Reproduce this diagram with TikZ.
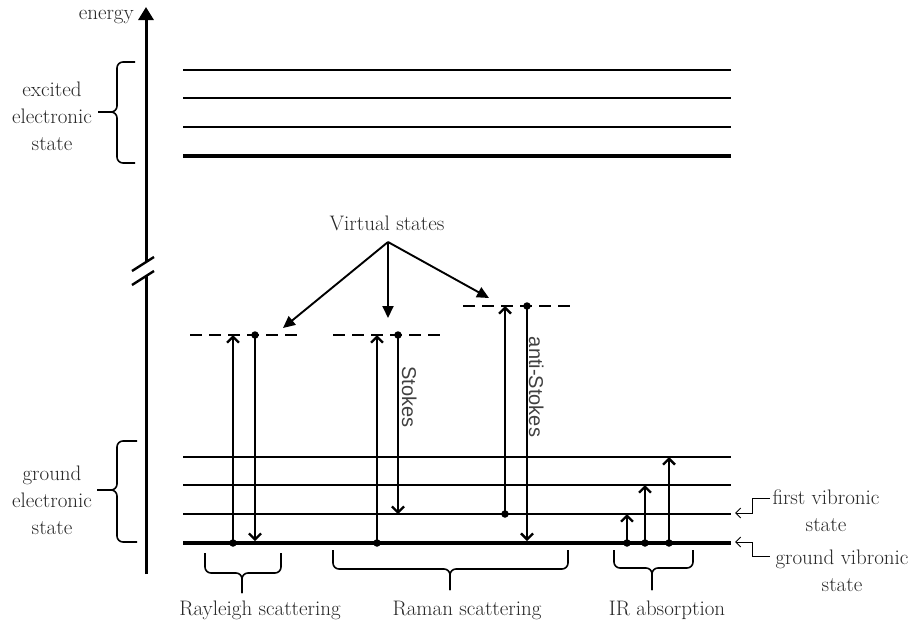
\documentclass[tikz,border=0pt]{standalone}
\usepackage{fontspec}
\newfontfamily\labelsans{Liberation Sans}
\usetikzlibrary{arrows.meta}
\begin{document}
\begin{tikzpicture}[x=1pt,y=-1pt,
  lbl/.style={font=\fontsize{21}{27}\selectfont, text=black!85, inner sep=0pt, align=center},
  vlbl/.style={font=\labelsans\fontsize{20}{24}\selectfont, text=black!75, inner sep=0pt, rotate=-90, anchor=base},
  level/.style={line width=2.6pt},
  baselevel/.style={line width=4.4pt},
  virtual/.style={line width=2.6pt, dash pattern=on 12pt off 7pt},
  trans/.style={line width=2.3pt, -{Straight Barb[length=6pt,width=12pt]}},
  dot/.style={circle, fill, inner sep=0pt, minimum size=7.5pt},
  pointer/.style={line width=1.9pt, -{Triangle[length=12pt,width=11pt]}},
  tag/.style={line width=1pt, {Straight Barb[length=5pt,width=10pt]}-},
  bracket/.style={line width=1.6pt, rounded corners=6pt},
  axis/.style={line width=3pt},
]
\useasboundingbox (0,0) rectangle (916,627);

% ---- energy axis with a break ----
\coordinate (axB) at (146,574);
\coordinate (axL) at (146,276);
\coordinate (axU) at (146,262);
\coordinate (axT) at (146,7);
\draw[axis] (axB) -- (axL);
\draw[axis, -{Triangle[length=13pt,width=15pt]}] (axU) -- (axT);
\coordinate (br1a) at (132,271); \coordinate (br1b) at (154,257);
\coordinate (br2a) at (132,285); \coordinate (br2b) at (154,271);
\draw[line width=2.4pt] (br1a) -- (br1b);
\draw[line width=2.4pt] (br2a) -- (br2b);
\node[lbl, anchor=east] (energy) at (134,17) {energy};

% ---- excited electronic state levels ----
\foreach \y/\n in {70/e3, 98/e2, 127/e1} {
  \coordinate (\n L) at (183,\y); \coordinate (\n R) at (731,\y);
  \draw[level] (\n L) -- (\n R);
}
\coordinate (e0L) at (183,156); \coordinate (e0R) at (731,156);
\draw[baselevel] (e0L) -- (e0R);

% ---- ground electronic state levels ----
\foreach \y/\n in {457/g3, 485/g2, 514/g1} {
  \coordinate (\n L) at (183,\y); \coordinate (\n R) at (731,\y);
  \draw[level] (\n L) -- (\n R);
}
\coordinate (g0L) at (183,543); \coordinate (g0R) at (731,543);
\draw[baselevel] (g0L) -- (g0R);

% ---- left braces ----
\node[lbl] (exc) at (52,116) {excited\\electronic\\state};
\draw[bracket] (135,62) -- (117,62) -- (117,112) -- (98,112);
\draw[bracket] (135,163) -- (117,163) -- (117,112) -- (98,112);
\node[lbl] (gnd) at (52,500) {ground\\electronic\\state};
\draw[bracket] (137,441) -- (117,441) -- (117,490) -- (97,490);
\draw[bracket] (137,542) -- (117,542) -- (117,490) -- (97,490);

% ---- virtual states ----
\coordinate (v1L) at (190,335); \coordinate (v1R) at (298,335);
\coordinate (v2L) at (333,335); \coordinate (v2R) at (441,335);
\coordinate (v3L) at (463,306); \coordinate (v3R) at (570,306);
\draw[virtual] (v1L) -- (v1R);
\draw[virtual] (v2L) -- (v2R);
\draw[virtual] (v3L) -- (v3R);

\node[lbl] (virt) at (387,223) {Virtual states};
\coordinate (vsrc) at (388,242);
\coordinate (vp1) at (283,328);
\coordinate (vp2) at (388,318);
\coordinate (vp3) at (489,298);
\draw[pointer] (vsrc) -- (vp1);
\draw[pointer] (vsrc) -- (vp2);
\draw[pointer] (vsrc) -- (vp3);

% ---- Rayleigh scattering ----
\node[dot] (ra0) at (233,543) {};
\coordinate (ra1) at (233,335);
\node[dot] (rb1) at (255,335) {};
\coordinate (rb0) at (255,541);
\draw[trans] (ra0.center) -- (ra1);
\draw[trans] (rb1.center) -- (rb0);

% ---- Stokes Raman ----
\node[dot] (sa0) at (377,543) {};
\coordinate (sa1) at (377,335);
\node[dot] (sb1) at (398,335) {};
\coordinate (sb0) at (398,514);
\draw[trans] (sa0.center) -- (sa1);
\draw[trans] (sb1.center) -- (sb0);
\node[vlbl] (stokes) at (402,397) {Stokes};

% ---- anti-Stokes Raman ----
\node[dot] (aa0) at (505,514) {};
\coordinate (aa1) at (505,306);
\node[dot] (ab1) at (527,306) {};
\coordinate (ab0) at (527,541);
\draw[trans] (aa0.center) -- (aa1);
\draw[trans] (ab1.center) -- (ab0);
\node[vlbl] (astokes) at (529,387) {anti-Stokes};

% ---- IR absorption ----
\node[dot] (ir1) at (627,543) {};
\node[dot] (ir2) at (645,543) {};
\node[dot] (ir3) at (669,543) {};
\coordinate (ir1t) at (627,514);
\coordinate (ir2t) at (645,485);
\coordinate (ir3t) at (669,457);
\draw[trans] (ir1.center) -- (ir1t);
\draw[trans] (ir2.center) -- (ir2t);
\draw[trans] (ir3.center) -- (ir3t);

% ---- bottom braces ----
\draw[bracket] (205,553) -- (205,573) -- (242,573) -- (242,593);
\draw[bracket] (281,553) -- (281,573) -- (242,573) -- (242,593);
\node[lbl] (ray) at (260,610) {Rayleigh scattering};
\draw[bracket] (333,550) -- (333,569) -- (450,569) -- (450,590);
\draw[bracket] (568,550) -- (568,569) -- (450,569) -- (450,590);
\node[lbl] (ram) at (467,610) {Raman scattering};
\draw[bracket] (614,550) -- (614,568) -- (652,568) -- (652,590);
\draw[bracket] (693,550) -- (693,568) -- (652,568) -- (652,590);
\node[lbl] (ir) at (667,610) {IR absorption};

% ---- level tags on the right ----
\node[lbl] (fvib) at (826,511) {first vibronic\\state};
\coordinate (fvA) at (735,513);
\draw[tag] (fvA) -- (752,513) -- (752,498) -- (770,498);
\node[lbl] (gvib) at (842,571) {ground vibronic\\state};
\coordinate (gvA) at (735,542);
\draw[tag] (gvA) -- (752,542) -- (752,556) -- (770,556);
\end{tikzpicture}
\end{document}
